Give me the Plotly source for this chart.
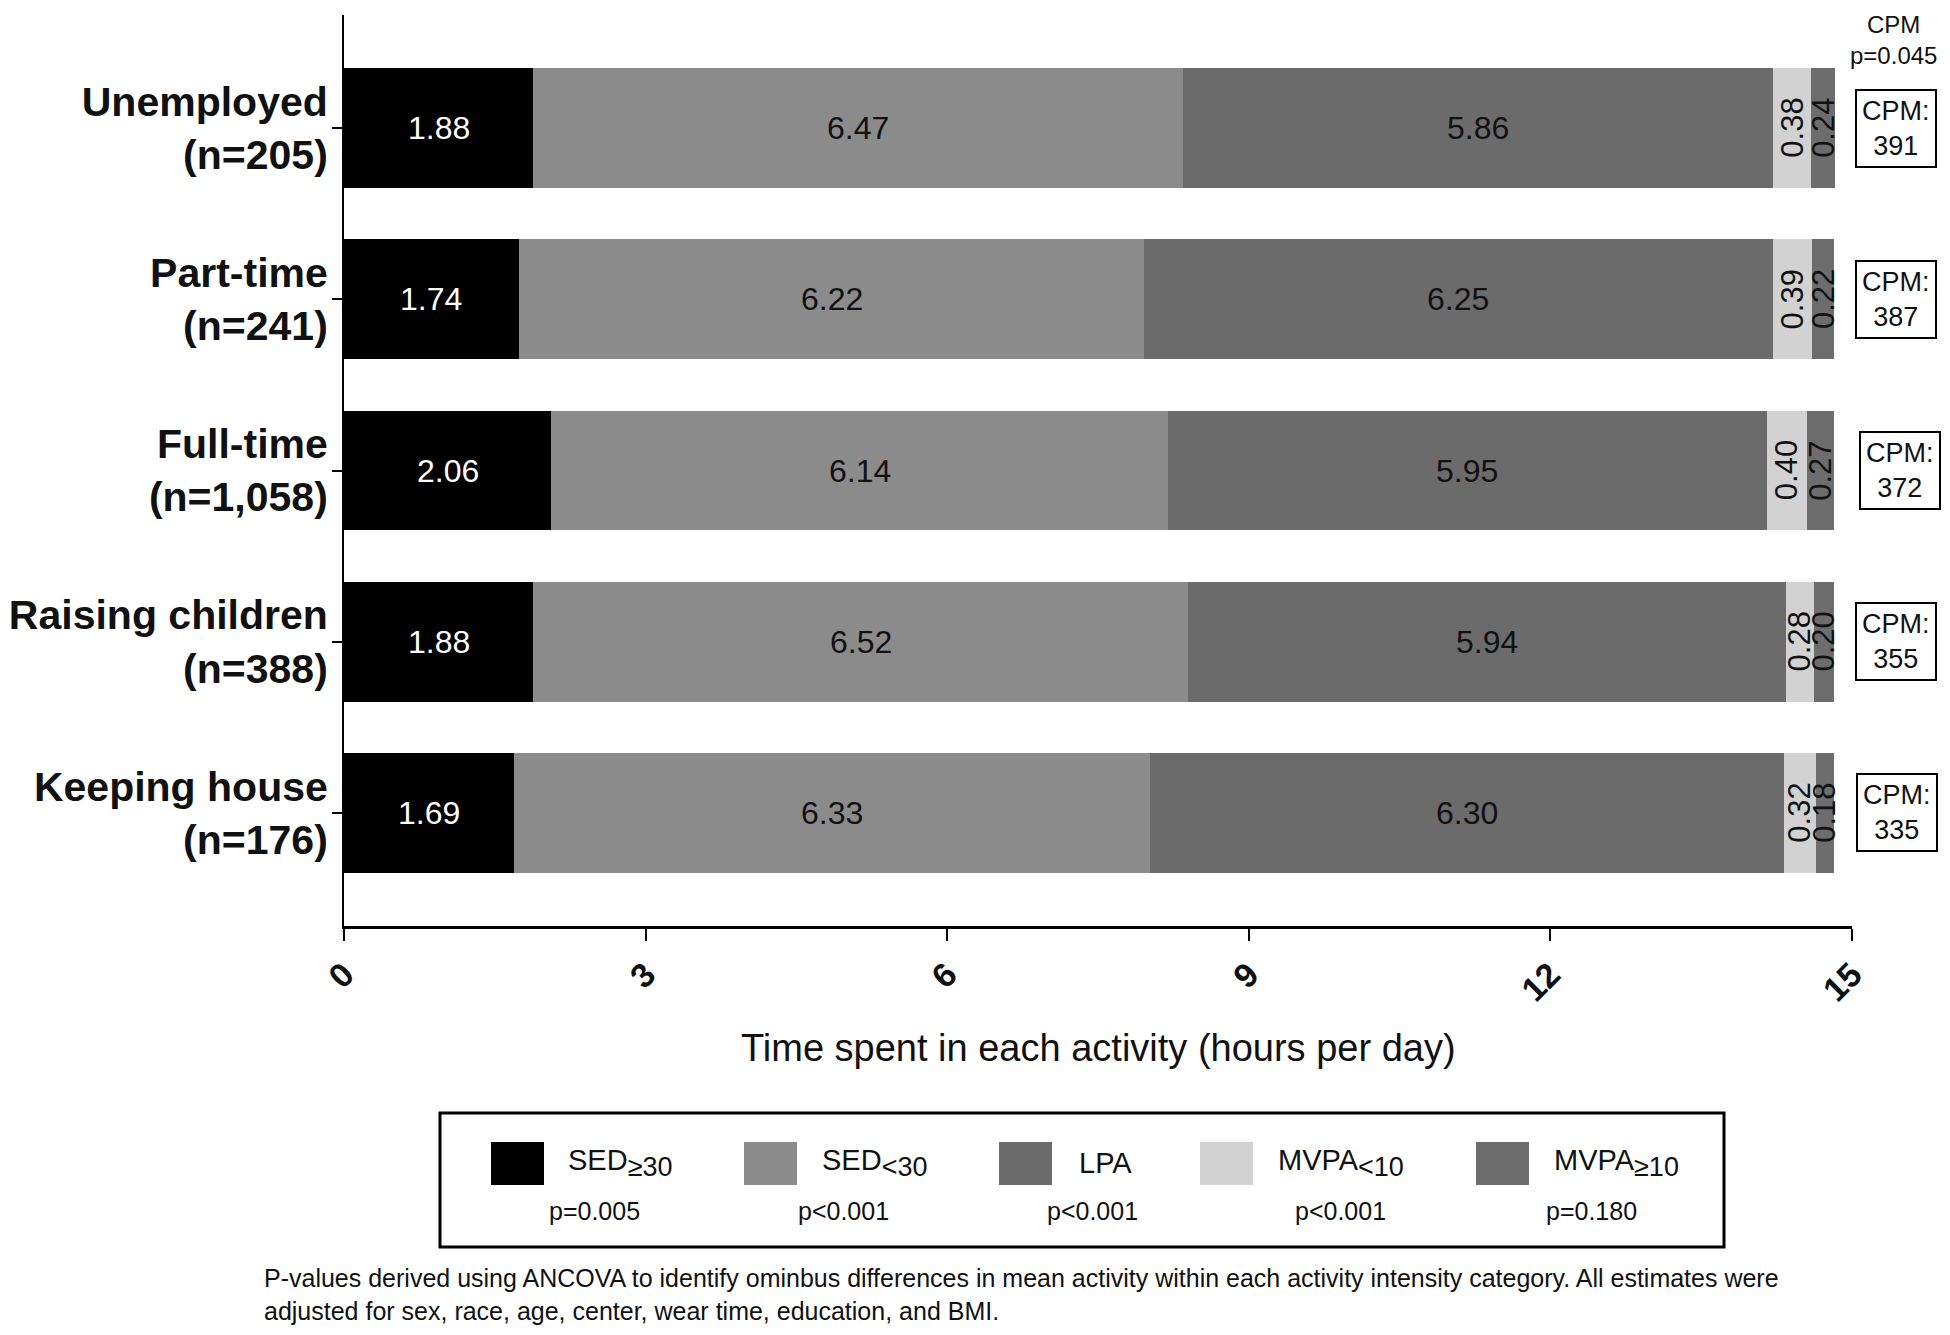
import plotly.graph_objects as go
import numpy as np

# ---------------- data ----------------
categories = ["Unemployed<br>(n=205)", "Part-time<br>(n=241)", "Full-time<br>(n=1,058)",
              "Raising children<br>(n=388)", "Keeping house<br>(n=176)"]
series_base = ["SED", "SED", "LPA", "MVPA", "MVPA"]
series_sub = ["≥30", "&lt;30", "", "&lt;10", "≥10"]
p_values = ["p=0.005", "p&lt;0.001", "p&lt;0.001", "p&lt;0.001", "p=0.180"]
sed_ge30 = [1.88, 1.74, 2.06, 1.88, 1.69]
sed_lt30 = [6.47, 6.22, 6.14, 6.52, 6.33]
lpa = [5.86, 6.25, 5.95, 5.94, 6.30]
mvpa_lt10 = [0.38, 0.39, 0.40, 0.28, 0.32]
mvpa_ge10 = [0.24, 0.22, 0.27, 0.20, 0.18]
cpm = [391, 387, 372, 355, 335]
cpm_p = "p=0.045"
x_ticks = [0, 3, 6, 9, 12, 15]

series = [sed_ge30, sed_lt30, lpa, mvpa_lt10, mvpa_ge10]
colors = ["#000000", "#8b8b8b", "#6b6b6b", "#d2d2d2", "#6d6d6d"]
text_colors = ["white", "#111111", "#111111", "#111111", "#111111"]
rotated = [False, False, False, True, True]

# page body has an 8px margin; figure coordinates = reference coordinates - 8
OFF = 8
W, H = 1950 - 2 * OFF, 1335 - 2 * OFF
PLOT_L, PLOT_R, PLOT_T, PLOT_B = 344, 1852, 15, 926   # reference pixels
L = PLOT_L - OFF
R = W - (PLOT_R - OFF)
T = PLOT_T - OFF
B = H - (PLOT_B - OFF)
PW, PH = W - L - R, H - T - B
FONT = "Liberation Sans, Arial, Helvetica, sans-serif"


def px(xp):
    return (xp - OFF - L) / PW


def py(yp):
    return (H - B - (yp - OFF)) / PH


def label(base, sub):
    if sub:
        return f"{base}<sub><span style='font-size:27px'>{sub}</span></sub>"
    return base


fig = go.Figure()
for base, sub, vals, col in zip(series_base, series_sub, series, colors):
    fig.add_trace(go.Bar(y=categories, x=vals, name=label(base, sub), orientation="h",
                         marker=dict(color=col, line=dict(width=0)), width=0.7,
                         showlegend=False, hoverinfo="x+name"))

annotations = []
shapes = []
# segment labels
cum = np.zeros(len(categories))
for si, vals in enumerate(series):
    for ci, v in enumerate(vals):
        annotations.append(dict(
            x=cum[ci] + v / 2, y=categories[ci], xref="x", yref="y",
            xanchor="center", yanchor="middle",
            text=f"{v:.2f}", showarrow=False,
            textangle=-90 if rotated[si] else 0,
            font=dict(family=FONT, size=31 if rotated[si] else 32, color=text_colors[si])))
    cum += np.array(vals)

# CPM boxes
cpm_x = [1896, 1896, 1900, 1896, 1897]
for ci, c in enumerate(cpm):
    annotations.append(dict(
        x=px(cpm_x[ci]), y=categories[ci], xref="paper", yref="y",
        xanchor="center", yanchor="middle",
        text=f"CPM:<br>{c}", showarrow=False, align="center",
        bordercolor="black", borderwidth=2, borderpad=5, bgcolor="white",
        font=dict(family=FONT, size=27, color="#111111")))

annotations.append(dict(x=px(1894), y=py(40), xref="paper", yref="paper",
                        xanchor="center", yanchor="middle",
                        text=f"CPM<br>{cpm_p}", showarrow=False, align="center",
                        font=dict(family=FONT, size=24, color="#111111")))

# x-axis title
annotations.append(dict(x=px(1098), y=py(1048), xref="paper", yref="paper",
                        xanchor="center", yanchor="middle",
                        text="Time spent in each activity (hours per day)", showarrow=False,
                        font=dict(family=FONT, size=38, color="#111111")))

# custom legend
shapes.append(dict(type="rect", xref="paper", yref="paper",
                   x0=px(440), x1=px(1724), y0=py(1113), y1=py(1247),
                   line=dict(color="black", width=3), fillcolor="white"))
sw_x = [491, 744, 999, 1200, 1476]
lab_x = [566, 820, 1077, 1276, 1552]
pv_x = [594, 843, 1092, 1340, 1591]
for i in range(len(series_base)):
    shapes.append(dict(type="rect", xref="paper", yref="paper",
                       x0=px(sw_x[i]), x1=px(sw_x[i] + 53), y0=py(1142), y1=py(1185),
                       line=dict(width=0), fillcolor=colors[i]))
    annotations.append(dict(x=px(lab_x[i]), y=py(1163), xref="paper", yref="paper",
                            xanchor="left", yanchor="middle",
                            text=label(series_base[i], series_sub[i]), showarrow=False,
                            font=dict(family=FONT, size=29, color="#111111")))
    annotations.append(dict(x=px(pv_x[i]), y=py(1211), xref="paper", yref="paper",
                            xanchor="center", yanchor="middle",
                            text=p_values[i], showarrow=False,
                            font=dict(family=FONT, size=25, color="#111111")))

# footnote
annotations.append(dict(x=px(262), y=py(1294), xref="paper", yref="paper",
                        xanchor="left", yanchor="middle", align="left", showarrow=False,
                        text="P-values derived using ANCOVA to identify ominbus differences in mean activity within each activity intensity category. All estimates were<br>adjusted for sex, race, age, center, wear time, education, and BMI.",
                        font=dict(family=FONT, size=25, color="#111111")))

fig.update_layout(
    width=W, height=H, barmode="stack", bargap=0.3,
    margin=dict(l=L, r=R, t=T, b=B, autoexpand=False),
    plot_bgcolor="white", paper_bgcolor="white",
    font=dict(family=FONT, color="#111111"),
    annotations=annotations, shapes=shapes,
    xaxis=dict(range=[0, 15], tickvals=x_ticks, ticktext=[str(t) for t in x_ticks],
               tickangle=-45, showgrid=False, zeroline=False,
               showline=True, linecolor="black", linewidth=3,
               ticks="outside", ticklen=12, tickwidth=2, tickcolor="black",
               tickfont=dict(family=FONT, size=34, color="#111111", weight="bold")),
    yaxis=dict(categoryorder="array", categoryarray=categories[::-1],
               range=[-0.66, 4.66], showgrid=False, zeroline=False,
               showline=True, linecolor="black", linewidth=2,
               ticks="outside", ticklen=10, tickwidth=2, tickcolor="black",
               ticklabelstandoff=-4,
               tickfont=dict(family=FONT, size=41, color="#111111", weight="bold")),
)

fig.write_html("out.html")
